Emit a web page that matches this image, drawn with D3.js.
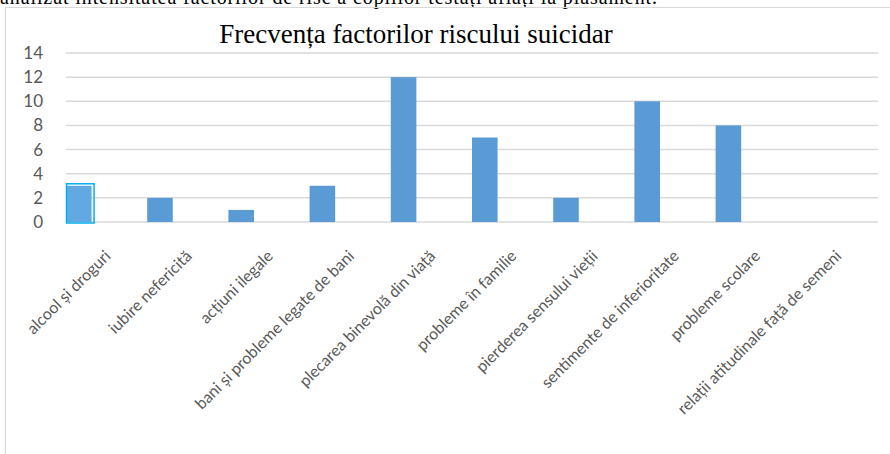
<!DOCTYPE html>
<html>
<head>
<meta charset="utf-8">
<script src="https://cdn.jsdelivr.net/npm/d3@7"></script>
<style>
  body { margin: 0; background: #fff; }
  svg { display: block; }
</style>
</head>
<body>
<div id="chart"></div>
<script>
/* DATA */
const categories = [
  "alcool și droguri",
  "iubire nefericită",
  "acțiuni ilegale",
  "bani și probleme legate de bani",
  "plecarea binevolă din viață",
  "probleme în familie",
  "pierderea sensului vieții",
  "sentimente de inferioritate",
  "probleme scolare",
  "relații atitudinale față de semeni"
];
const counts = [3, 2, 1, 3, 12, 7, 2, 10, 8, 0];
const yTicks = [0, 2, 4, 6, 8, 10, 12, 14];
const chartTitle = "Frecvența factorilor riscului suicidar";
const pageLine = "analizat intensitatea factorilor de risc a copiilor testați aflați la plasament.";

/* LAYOUT */
const width = 890, height = 454;
const plot = {left: 66, right: 878, top: 53, bottom: 222};

const svg = d3.select("#chart").append("svg")
  .attr("width", width)
  .attr("height", height);

// document text cut off above the chart (as in the page screenshot)
svg.append("text")
  .attr("x", 0)
  .attr("y", 4)
  .attr("textLength", 657)
  .style("font-family", "'Liberation Serif', 'Times New Roman', serif")
  .style("font-size", "20px")
  .attr("fill", "#000")
  .text(pageLine);

// chart frame (top + left edge visible)
svg.append("line").attr("x1", 5).attr("x2", width).attr("y1", 7.5).attr("y2", 7.5)
  .attr("stroke", "#d9d9d9").attr("stroke-width", 1.2);
svg.append("line").attr("x1", 5.5).attr("x2", 5.5).attr("y1", 7.5).attr("y2", height)
  .attr("stroke", "#d9d9d9").attr("stroke-width", 1.2);

/* SCALES */
const x = d3.scaleBand()
  .domain(categories)
  .range([plot.left, plot.right]);

const y = d3.scaleLinear()
  .domain([0, 14])
  .range([plot.bottom, plot.top]);

// gridlines
svg.append("g")
  .selectAll("line")
  .data(yTicks)
  .join("line")
  .attr("x1", plot.left)
  .attr("x2", plot.right)
  .attr("y1", d => y(d))
  .attr("y2", d => y(d))
  .attr("stroke", "#d9d9d9")
  .attr("stroke-width", 1.5);

// y axis labels
const yAxis = svg.append("g")
  .attr("transform", `translate(${plot.left - 23},0)`)
  .call(d3.axisLeft(y).tickValues(yTicks).tickSize(0).tickPadding(0));
yAxis.select(".domain").remove();
yAxis.selectAll("text")
  .style("font-family", "Lato, 'Open Sans', sans-serif")
  .style("font-size", "17px")
  .attr("fill", "#595959");

// bars (sit at the left side of each category slot)
const barW = x.bandwidth() * 0.315;
svg.append("g")
  .selectAll("rect")
  .data(categories)
  .join("rect")
  .attr("x", d => x(d))
  .attr("y", (d, i) => y(counts[i]))
  .attr("width", barW)
  .attr("height", (d, i) => y(0) - y(counts[i]))
  .attr("fill", (d, i) => i === 0 ? "#62a8e2" : "#5b9bd5");

// selection outline on first bar
svg.append("rect")
  .attr("x", x(categories[0]) + 0.5)
  .attr("y", y(counts[0]) - 2)
  .attr("width", barW + 2)
  .attr("height", y(0) - y(counts[0]) + 3)
  .attr("fill", "none")
  .attr("stroke", "#00b0f0")
  .attr("stroke-width", 1.5);

// category labels, rotated
const xAxis = svg.append("g")
  .attr("transform", `translate(0,${plot.bottom})`)
  .call(d3.axisBottom(x).tickSize(0).tickPadding(0));
xAxis.select(".domain").remove();
xAxis.selectAll("text")
  .style("font-family", "Lato, 'Open Sans', sans-serif")
  .style("font-size", "16px")
  .attr("fill", "#595959")
  .attr("text-anchor", "end")
  .attr("dy", 0)
  .attr("transform", "translate(5,35) rotate(-45)");

// title
svg.append("text")
  .attr("x", 416)
  .attr("y", 43)
  .attr("text-anchor", "middle")
  .style("font-family", "'Liberation Serif', 'Times New Roman', serif")
  .style("font-size", "27px")
  .attr("fill", "#000")
  .text(chartTitle);
</script>
</body>
</html>
